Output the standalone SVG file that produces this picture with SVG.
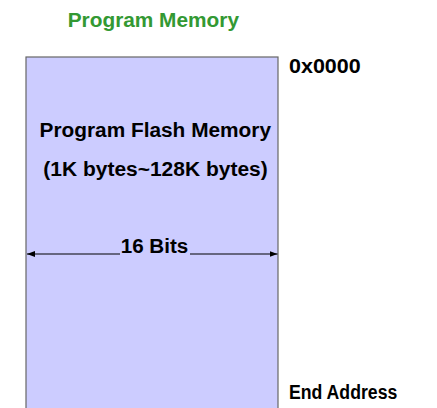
<svg xmlns="http://www.w3.org/2000/svg" width="437" height="408" viewBox="0 0 437 408">
<style>
text{font-family:"Liberation Sans",Arial,sans-serif;font-weight:bold;font-size:19.5px;fill:#000}
.title{fill:#339933}
.block{fill:#ccccff;stroke:#666666;stroke-width:1.2}
.dim{stroke:#000;stroke-width:1;fill:none}
</style>
<defs>
<marker id="ah" viewBox="0 0 8 6" refX="8" refY="3" markerWidth="8" markerHeight="6" markerUnits="userSpaceOnUse" orient="auto-start-reverse">
<path d="M0,0 L8,3 L0,6 Z" fill="#000"/>
</marker>
</defs>
<text class="title" x="67.7" y="26.7" textLength="171.3" lengthAdjust="spacingAndGlyphs">Program Memory</text>
<g id="program-flash-memory">
<rect class="block" x="26" y="57" width="252" height="360"/>
<text x="39.5" y="137" textLength="231.5" lengthAdjust="spacingAndGlyphs">Program Flash Memory</text>
<text x="43.3" y="175.5" textLength="224.4" lengthAdjust="spacingAndGlyphs">(1K bytes~128K bytes)</text>
<text x="120.7" y="253" textLength="67.6" lengthAdjust="spacingAndGlyphs">16 Bits</text>
</g>
<g id="addr-start"><text x="289" y="73" textLength="71.7" lengthAdjust="spacingAndGlyphs">0x0000</text></g>
<g id="addr-end"><text x="289" y="399" textLength="108.3" lengthAdjust="spacingAndGlyphs">End Address</text></g>
<g id="connectors">
<line class="dim" x1="120" y1="254" x2="27" y2="254" marker-end="url(#ah)"/>
<line class="dim" x1="190" y1="254" x2="277.5" y2="254" marker-end="url(#ah)"/>
</g>
</svg>
